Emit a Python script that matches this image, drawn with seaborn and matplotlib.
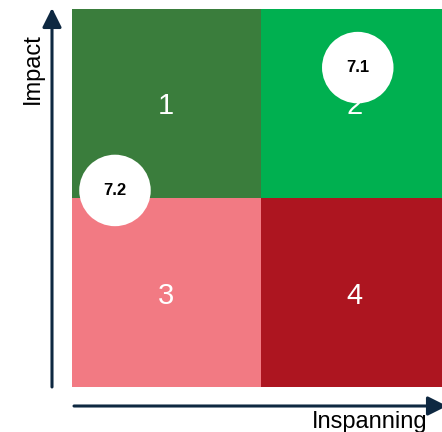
import matplotlib
matplotlib.use("Agg")
import matplotlib.pyplot as plt
import seaborn as sns
import numpy as np
from matplotlib.colors import ListedColormap

# kwadranten (rij 0 = boven)
quadrant_ids = [[1, 2], [3, 4]]
quadrant_labels = [["1", "2"], ["3", "4"]]
quadrant_colors = ["#3A7D3C", "#00B050", "#F27A83", "#AD1520"]

# punten: inspanning (0-2, links->rechts), impact (0-2, onder->boven)
items = ["7.1", "7.2"]
inspanning = [1.516, 0.228]
impact = [1.69, 1.04]

NAVY = "#0E2841"
W, H = 442, 432

sns.set_theme(style="white")
plt.rcParams["font.family"] = ["Liberation Sans", "DejaVu Sans"]

fig = plt.figure(figsize=(W / 100, H / 100), dpi=100)


def fx(px):
    return px / W


def fy(py):
    return 1 - py / H


# rechterkolom loopt iets buiten het beeld
ax = fig.add_axes([fx(72), fy(387), (449 - 72) / W, (387 - 9) / H])

sns.heatmap(
    np.array(quadrant_ids),
    ax=ax,
    cmap=ListedColormap(quadrant_colors),
    vmin=0.5,
    vmax=4.5,
    cbar=False,
    annot=np.array(quadrant_labels),
    fmt="",
    annot_kws={"color": "white", "fontsize": 21, "va": "center_baseline"},
    linewidths=0,
)
ax.set_xticks([])
ax.set_yticks([])
ax.set_xlabel("")
ax.set_ylabel("")

# witte cirkels met labels
ys = [2 - v for v in impact]
ax.scatter(inspanning, ys, s=2650, color="white", edgecolors="none",
           zorder=4, clip_on=False)
for name, x, y in zip(items, inspanning, ys):
    ax.text(x, y, name, ha="center", va="center", fontsize=12,
            fontweight="bold", color="black", zorder=5)

# assen als pijlen
arrow = dict(arrowstyle="-|>,head_length=0.58,head_width=0.29",
             lw=2.2, color=NAVY, mutation_scale=20, shrinkA=0, shrinkB=0)
fig.add_artist(plt.Annotation("", xy=(fx(52), fy(8)), xytext=(fx(52), fy(387)),
                              xycoords="figure fraction",
                              textcoords="figure fraction", arrowprops=arrow))
fig.add_artist(plt.Annotation("", xy=(fx(447), fy(406)), xytext=(fx(74), fy(406)),
                              xycoords="figure fraction",
                              textcoords="figure fraction", arrowprops=arrow))

fig.text(fx(33), fy(69), "Impact", rotation=90, ha="center", va="center",
         fontsize=17, color="black")
fig.text(fx(370), fy(411), "Inspanning", ha="center", va="top",
         fontsize=17, color="black")

fig.savefig("out.png", dpi=100)
